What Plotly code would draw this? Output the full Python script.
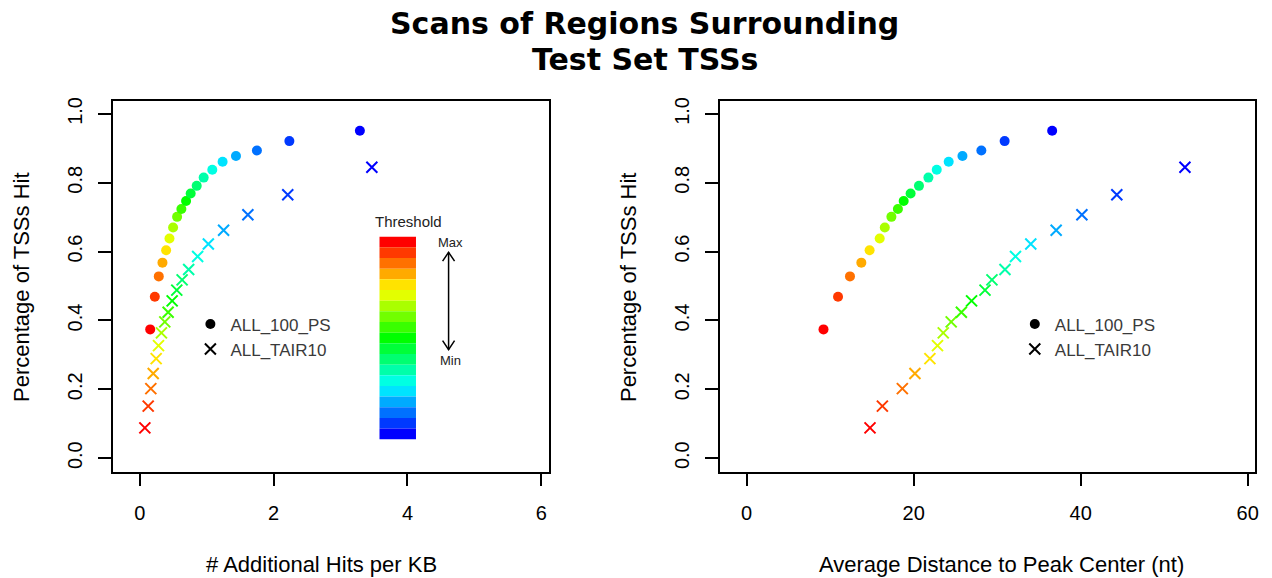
import colorsys
import plotly.graph_objects as go

# ---------------- data ----------------
hit_pct_ps = [0.374, 0.469, 0.528, 0.568, 0.604, 0.638, 0.670, 0.701, 0.724, 0.747,
              0.769, 0.791, 0.815, 0.838, 0.861, 0.878, 0.894, 0.921, 0.951]
hit_pct_tair = [0.088, 0.151, 0.202, 0.246, 0.289, 0.327, 0.364, 0.396, 0.424, 0.457,
                0.488, 0.518, 0.548, 0.586, 0.622, 0.662, 0.707, 0.765, 0.845]
addl_hits_ps = [0.155, 0.224, 0.283, 0.338, 0.393, 0.443, 0.497, 0.557, 0.621, 0.691,
                0.760, 0.850, 0.954, 1.083, 1.237, 1.437, 1.750, 2.235, 3.289]
addl_hits_tair = [0.075, 0.125, 0.164, 0.200, 0.244, 0.279, 0.323, 0.373, 0.423, 0.483,
                  0.552, 0.632, 0.730, 0.864, 1.024, 1.252, 1.615, 2.211, 3.468]
avg_dist_ps = [9.20, 10.94, 12.37, 13.73, 14.72, 15.93, 16.54, 17.33, 18.11, 18.80,
               19.63, 20.63, 21.76, 22.76, 24.19, 25.84, 28.10, 30.89, 36.58]
avg_dist_tair = [14.77, 16.25, 18.64, 20.15, 21.94, 22.85, 23.54, 24.49, 25.71, 26.93,
                 28.54, 29.37, 30.93, 32.19, 34.02, 37.06, 40.14, 44.32, 52.48]
series_names = ["ALL_100_PS", "ALL_TAIR10"]
left_xticks = [0, 2, 4, 6]
right_xticks = [0, 20, 40, 60]
yticks = [0.0, 0.2, 0.4, 0.6, 0.8, 1.0]
ytick_labels = ["0.0", "0.2", "0.4", "0.6", "0.8", "1.0"]

# ---------------- styling ----------------
W, H = 1272, 578
n = len(hit_pct_ps)


def rainbow(k):
    out = []
    for i in range(k):
        r, g, b = colorsys.hsv_to_rgb((i / (k - 1)) * (4 / 6), 1, 1)
        out.append("#%02X%02X%02X" % (round(r * 255), round(g * 255), round(b * 255)))
    return out


cols = rainbow(n)
FONT = "Liberation Sans, Arial, sans-serif"


def px(x):
    return x / W


def py(y):
    return 1 - y / H


fig = go.Figure()

for (xs_ps, xs_tair, xa, ya, lg) in [
    (addl_hits_ps, addl_hits_tair, "x", "y", "legend"),
    (avg_dist_ps, avg_dist_tair, "x2", "y2", "legend2"),
]:
    fig.add_trace(go.Scatter(x=xs_ps, y=hit_pct_ps, mode="markers", xaxis=xa, yaxis=ya,
                             marker=dict(symbol="circle", size=10, color=cols), showlegend=False))
    fig.add_trace(go.Scatter(x=xs_tair, y=hit_pct_tair, mode="markers", xaxis=xa, yaxis=ya,
                             marker=dict(symbol="x-thin-open", size=11, color=cols,
                                         line=dict(width=2)), showlegend=False))
    # legend entries (black symbols)
    fig.add_trace(go.Scatter(x=[None], y=[None], mode="markers", xaxis=xa, yaxis=ya,
                             name=series_names[0], legend=lg,
                             marker=dict(symbol="circle", size=10, color="black")))
    fig.add_trace(go.Scatter(x=[None], y=[None], mode="markers", xaxis=xa, yaxis=ya,
                             name=series_names[1], legend=lg,
                             marker=dict(symbol="x-thin-open", size=11, color="black",
                                         line=dict(width=2))))

axis_common = dict(showline=True, mirror=True, linecolor="black", linewidth=1.5,
                   ticks="outside", ticklen=13, tickwidth=1.5, tickcolor="black",
                   showgrid=False, zeroline=False,
                   tickfont=dict(family=FONT, size=20, color="black"))

yd = [py(471), py(97.7)]
fig.update_layout(
    width=W, height=H,
    margin=dict(l=0, r=0, t=0, b=0),
    paper_bgcolor="white", plot_bgcolor="white",
    xaxis=dict(domain=[px(113.3), px(551)], range=[-0.402, 6.12], tickvals=left_xticks,
               anchor="y", ticklabelstandoff=10, **axis_common),
    yaxis=dict(domain=yd, range=[-0.0395, 1.0375], tickvals=yticks, ticktext=ytick_labels,
               tickangle=-90, anchor="x", ticklabelstandoff=8, **axis_common),
    xaxis2=dict(domain=[px(722.3), px(1259.3)], range=[-3.19, 60.91], tickvals=right_xticks,
                anchor="y2", ticklabelstandoff=10, **axis_common),
    yaxis2=dict(domain=yd, range=[-0.0395, 1.0375], tickvals=yticks, ticktext=ytick_labels,
                tickangle=-90, anchor="x2", ticklabelstandoff=8, **axis_common),
    legend=dict(x=px(191), y=py(304.5), xanchor="left", yanchor="top",
                bgcolor="rgba(0,0,0,0)", font=dict(family=FONT, size=17, color="#3a3a3a"),
                itemwidth=30),
    legend2=dict(x=px(1018), y=py(304.5), xanchor="left", yanchor="top",
                 bgcolor="rgba(0,0,0,0)", font=dict(family=FONT, size=17, color="#3a3a3a"),
                 itemwidth=30),
)

ann = []
ann.append(dict(text="<b>Scans of Regions Surrounding</b>", x=px(647), y=py(20),
                xref="paper", yref="paper", showarrow=False, xanchor="center", yanchor="middle",
                font=dict(family="DejaVu Sans", size=30, color="black")))
ann.append(dict(text="<b>Test Set TSSs</b>", x=px(647), y=py(55.5),
                xref="paper", yref="paper", showarrow=False, xanchor="center", yanchor="middle",
                font=dict(family="DejaVu Sans", size=30, color="black")))
for cx, t in [(323, "# Additional Hits per KB"), (1005, "Average Distance to Peak Center (nt)")]:
    ann.append(dict(text=t, x=px(cx), y=py(564), xref="paper", yref="paper", showarrow=False,
                    xanchor="center", yanchor="middle", font=dict(family=FONT, size=22, color="black")))
for cx in [21, 630]:
    ann.append(dict(text="Percentage of TSSs Hit", x=px(cx), y=py(285), xref="paper", yref="paper",
                    showarrow=False, textangle=-90, xanchor="center", yanchor="middle",
                    font=dict(family=FONT, size=22, color="black")))
ann.append(dict(text="Threshold", x=px(410), y=py(219.5), xref="paper", yref="paper", showarrow=False,
                xanchor="center", yanchor="middle", font=dict(family=FONT, size=15, color="#222222")))
ann.append(dict(text="Max", x=px(452), y=py(240), xref="paper", yref="paper", showarrow=False,
                xanchor="center", yanchor="middle", font=dict(family=FONT, size=13, color="#222222")))
ann.append(dict(text="Min", x=px(452), y=py(358.5), xref="paper", yref="paper", showarrow=False,
                xanchor="center", yanchor="middle", font=dict(family=FONT, size=13, color="#222222")))

shapes = []
top, bot = 234.3, 438.3
bh = (bot - top) / n
for i, c in enumerate(cols):
    shapes.append(dict(type="rect", xref="paper", yref="paper",
                       x0=px(380.7), x1=px(417.3), y0=py(top + i * bh), y1=py(top + (i + 1) * bh),
                       fillcolor=c, line=dict(width=0)))
ax_x = 450
shapes.append(dict(type="line", xref="paper", yref="paper", x0=px(ax_x), x1=px(ax_x),
                   y0=py(250), y1=py(348), line=dict(color="black", width=1.5)))
shapes.append(dict(type="path", xref="paper", yref="paper",
                   path=f"M {px(444)} {py(259)} L {px(ax_x)} {py(250)} L {px(456)} {py(259)}",
                   line=dict(color="black", width=1.5)))
shapes.append(dict(type="path", xref="paper", yref="paper",
                   path=f"M {px(444)} {py(339)} L {px(ax_x)} {py(348)} L {px(456)} {py(339)}",
                   line=dict(color="black", width=1.5)))

fig.update_layout(annotations=ann, shapes=shapes)
fig.write_html("out.html")
